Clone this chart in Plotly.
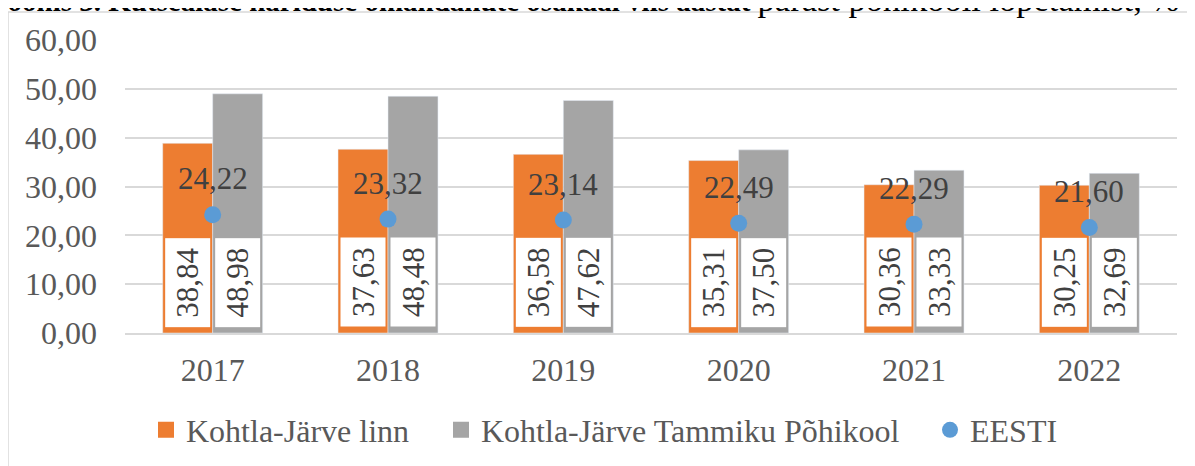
import plotly.graph_objects as go

years = ["2017", "2018", "2019", "2020", "2021", "2022"]
linn = [38.84, 37.63, 36.58, 35.31, 30.36, 30.25]
kool = [48.98, 48.48, 47.62, 37.50, 33.33, 32.69]
eesti = [24.22, 23.32, 23.14, 22.49, 22.29, 21.60]

names = ["Kohtla-Järve linn", "Kohtla-Järve Tammiku Põhikool", "EESTI"]
colors = ["#ED7D31", "#A5A5A5", "#5B9BD5"]
title_bold = "Joonis 3. Kutsealase hariduse omandanute osakaal viis aastat"
title_rest = "pärast põhikooli lõpetamist, %"

FONT = "Liberation Serif, Times New Roman, serif"
FS = 32
FS_LBL = 31

W, H = 1195, 466
OFF = 8  # page body margin
# plot area in page pixels
PX0, PX1, PY0, PY1 = 125, 1177, 40, 333
pw, ph = PX1 - PX0, PY1 - PY0

def px2x(p):
    return (p - PX0) / pw

def py2y(p):
    return (PY1 - p) / ph

def fmt(v):
    return f"{v:.2f}".replace(".", ",")

fig = go.Figure()
fig.add_trace(go.Bar(x=years, y=linn, name=names[0], marker_color=colors[0],
                     showlegend=False, hoverinfo="skip"))
fig.add_trace(go.Bar(x=years, y=kool, name=names[1], marker_color=colors[1],
                     showlegend=False, hoverinfo="skip"))
fig.add_trace(go.Scatter(x=years, y=eesti, name=names[2], mode="markers",
                         marker=dict(color=colors[2], size=17), showlegend=False))

# legend-only entries, each in its own legend so they can be placed like the original
leg_specs = [(names[0], colors[0], "square", 16, "legend", 146),
             (names[1], colors[1], "square", 16, "legend2", 441),
             (names[2], colors[2], "circle", 16, "legend3", 930)]
legend_layouts = {}
for nm, col, sym, sz, lg, p in leg_specs:
    fig.add_trace(go.Scatter(x=[years[0]], y=[None], mode="markers", name=nm,
                             marker=dict(color=col, symbol=sym, size=sz), legend=lg,
                             hoverinfo="skip"))
    legend_layouts[lg] = dict(orientation="h", x=px2x(p), xanchor="left",
                              y=py2y(430), yanchor="middle",
                              font=dict(family=FONT, size=FS, color="#595959"),
                              itemwidth=30, bgcolor="rgba(0,0,0,0)")

ann = []
bar_half = 25
for i, yr in enumerate(years):
    for vals, sh in [(linn, -bar_half), (kool, bar_half)]:
        ann.append(dict(x=i, y=0, xref="x", yref="y", xshift=sh, yshift=6,
                        xanchor="center", yanchor="bottom", showarrow=False,
                        text=fmt(vals[i]), textangle=-90, bgcolor="white",
                        borderwidth=0, borderpad=0, width=89, height=45,
                        font=dict(family=FONT, size=FS_LBL, color="#404040")))
    ann.append(dict(x=i, y=eesti[i], xref="x", yref="y", yshift=36,
                    xanchor="center", yanchor="middle", showarrow=False,
                    text=fmt(eesti[i]),
                    font=dict(family=FONT, size=FS_LBL, color="#404040")))

# caption (cut by the top edge, as in the original)
ann.append(dict(x=px2x(-9), y=py2y(20), xref="paper", yref="paper",
                xanchor="left", yanchor="bottom", showarrow=False,
                text=f"<b>{title_bold}</b> <span style='font-size:34.5px'>{title_rest}</span>",
                font=dict(family=FONT, size=29, color="black")))

fig.update_layout(
    width=W, height=H,
    margin=dict(l=PX0 - OFF, r=W - PX1 + OFF, t=PY0 - OFF, b=H - PY1 + OFF,
                autoexpand=False),
    paper_bgcolor="white", plot_bgcolor="white",
    barmode="group", bargap=0.43, bargroupgap=0,
    separators=", ",
    font=dict(family=FONT, size=FS, color="#595959"),
    xaxis=dict(type="category", categoryorder="array", categoryarray=years,
               range=[-0.5, len(years) - 0.5], autorange=False,
               showgrid=False, showline=True, linecolor="#d9d9d9",
               linewidth=1.5, ticks="", ticklabelstandoff=8,
               tickfont=dict(family=FONT, size=FS, color="#595959")),
    yaxis=dict(range=[0, 60], autorange=False, dtick=10, tickformat=".2f", showgrid=True,
               gridcolor="#d9d9d9", gridwidth=1.5, zeroline=False, showline=False,
               ticks="", ticklabelstandoff=27,
               tickfont=dict(family=FONT, size=FS, color="#595959")),
    annotations=ann,
    shapes=[dict(type="rect", xref="paper", yref="paper",
                 x0=px2x(8), x1=px2x(1215),
                 y0=py2y(490), y1=py2y(12),
                 line=dict(color="#d9d9d9", width=1.5), fillcolor="rgba(0,0,0,0)",
                 layer="below")],
    **legend_layouts,
)

fig.write_html("out.html")
